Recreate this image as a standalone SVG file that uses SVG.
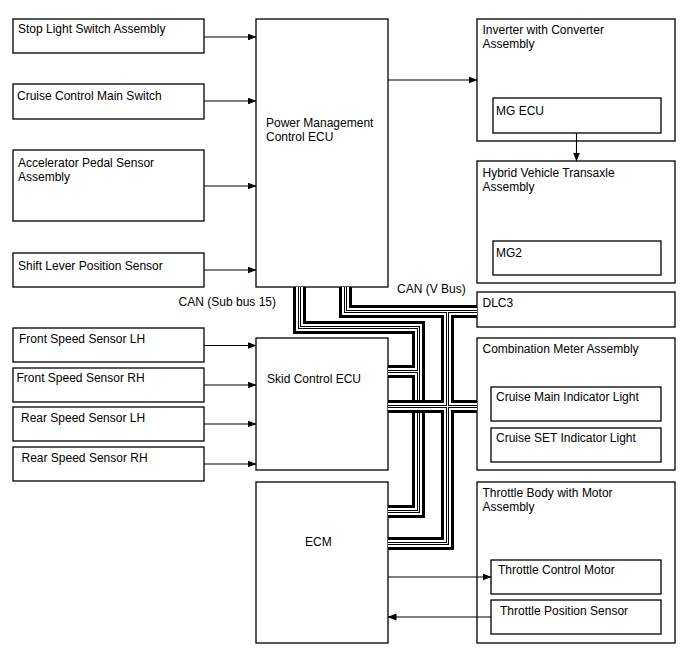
<svg xmlns="http://www.w3.org/2000/svg" width="688" height="658" viewBox="0 0 688 658">
<defs>
<marker id="ah" markerWidth="9" markerHeight="8" refX="8.5" refY="3.5" orient="auto" markerUnits="userSpaceOnUse">
<path d="M0,0 L9,3.5 L0,7 z" fill="#000"/>
</marker>
<style>
.box{fill:#fff;stroke:#000;stroke-width:1.3}
.t{font-family:"Liberation Sans",Arial,sans-serif;font-size:12px;fill:#000}
.arr{stroke:#000;stroke-width:1.1;fill:none;marker-end:url(#ah)}
.b1{stroke:#000;stroke-width:13;fill:none;stroke-linejoin:miter}
.b2{stroke:#fff;stroke-width:7;fill:none;stroke-linejoin:miter}
.b3{stroke:#000;stroke-width:3;fill:none;stroke-linejoin:miter}
.b4{stroke:#fff;stroke-width:1;fill:none;stroke-linejoin:miter}
</style>
</defs>
<rect width="688" height="658" fill="#fff"/>

<g id="stop-light"><rect class="box" x="13" y="19" width="191" height="34"/><text class="t" x="18" y="33">Stop Light Switch Assembly</text></g>
<g id="cruise-main"><rect class="box" x="13" y="84" width="191" height="35"/><text class="t" x="17" y="99.5">Cruise Control Main Switch</text></g>
<g id="accel"><rect class="box" x="13" y="150" width="191" height="71"/><text class="t" x="18" y="167">Accelerator Pedal Sensor</text><text class="t" x="18" y="181">Assembly</text></g>
<g id="shift"><rect class="box" x="13" y="253" width="191" height="34"/><text class="t" x="18" y="269.5">Shift Lever Position Sensor</text></g>

<g id="pm-ecu"><rect class="box" x="256" y="19" width="132" height="268"/><text class="t" x="266" y="127">Power Management</text><text class="t" x="266" y="141">Control ECU</text></g>

<g id="inverter"><rect class="box" x="477" y="19" width="198" height="122"/><text class="t" x="482.5" y="34">Inverter with Converter</text><text class="t" x="482.5" y="48">Assembly</text></g>
<g id="mg-ecu"><rect class="box" x="493" y="98" width="168" height="35"/><text class="t" x="496" y="115">MG ECU</text></g>
<g id="hybrid"><rect class="box" x="477" y="161" width="198" height="122"/><text class="t" x="482.5" y="177">Hybrid Vehicle Transaxle</text><text class="t" x="482.5" y="191">Assembly</text></g>
<g id="mg2"><rect class="box" x="493" y="241" width="168" height="34"/><text class="t" x="496" y="256.5">MG2</text></g>
<g id="dlc3"><rect class="box" x="477" y="292" width="198" height="35"/><text class="t" x="482.5" y="307">DLC3</text></g>
<g id="combo"><rect class="box" x="477" y="338" width="198" height="132"/><text class="t" x="482.5" y="353">Combination Meter Assembly</text></g>
<g id="cruise-main-ind"><rect class="box" x="491" y="387" width="170" height="34"/><text class="t" x="496" y="401">Cruise Main Indicator Light</text></g>
<g id="cruise-set-ind"><rect class="box" x="491" y="428" width="170" height="34"/><text class="t" x="496" y="442">Cruise SET Indicator Light</text></g>
<g id="throttle-body"><rect class="box" x="477" y="482" width="198" height="161"/><text class="t" x="482.5" y="497">Throttle Body with Motor</text><text class="t" x="482.5" y="511">Assembly</text></g>
<g id="throttle-motor"><rect class="box" x="491" y="560" width="170" height="34"/><text class="t" x="498" y="574">Throttle Control Motor</text></g>
<g id="throttle-sensor"><rect class="box" x="491" y="600" width="170" height="34"/><text class="t" x="500" y="614.5">Throttle Position Sensor</text></g>

<g id="fl"><rect class="box" x="13" y="328" width="191" height="34"/><text class="t" x="19" y="343">Front Speed Sensor LH</text></g>
<g id="fr"><rect class="box" x="13" y="368" width="191" height="34"/><text class="t" x="16.5" y="381.5">Front Speed Sensor RH</text></g>
<g id="rl"><rect class="box" x="13" y="407" width="191" height="34"/><text class="t" x="21" y="422">Rear Speed Sensor LH</text></g>
<g id="rr"><rect class="box" x="13" y="447" width="191" height="34"/><text class="t" x="21.5" y="461.5">Rear Speed Sensor RH</text></g>

<g id="skid"><rect class="box" x="256" y="338" width="132" height="132"/><text class="t" x="267" y="383">Skid Control ECU</text></g>
<g id="ecm"><rect class="box" x="256" y="482" width="132" height="161"/><text class="t" x="305" y="546">ECM</text></g>

<g id="connectors">
<path class="arr" d="M204,37 H256"/>
<path class="arr" d="M204,101 H256"/>
<path class="arr" d="M204,186 H256"/>
<path class="arr" d="M204,270 H256"/>
<path class="arr" d="M388,80 H477"/>
<path class="arr" d="M576.5,133 V161"/>
<path class="arr" d="M204,345.5 H256"/>
<path class="arr" d="M204,385 H256"/>
<path class="arr" d="M204,424 H256"/>
<path class="arr" d="M204,464 H256"/>
<path class="arr" d="M388,577 H491"/>
<path class="arr" d="M491,617 H388"/>

<g id="can-sub-bus-15">
<path class="b1" d="M299.5,287 V327.5 H418.5 V511.5 H388 M418.5,371.5 H388"/>
<path class="b2" d="M299.5,287 V327.5 H418.5 V511.5 H388 M418.5,371.5 H388"/>
<path class="b3" d="M299.5,287 V327.5 H418.5 V511.5 H388 M418.5,371.5 H388"/>
<path class="b4" d="M299.5,287 V327.5 H418.5 V511.5 H388 M418.5,371.5 H388"/>
</g>
<g id="can-v-bus">
<path class="b1" d="M345.5,287 V311.5 H477 M447.5,311.5 V543.5 H388 M388,406.5 H477"/>
<path class="b2" d="M345.5,287 V311.5 H477 M447.5,311.5 V543.5 H388 M388,406.5 H477"/>
<path class="b3" d="M345.5,287 V311.5 H477 M447.5,311.5 V543.5 H388 M388,406.5 H477"/>
<path class="b4" d="M345.5,287 V311.5 H477 M447.5,311.5 V543.5 H388 M388,406.5 H477"/>
</g>
<text class="t" x="276" y="306" text-anchor="end">CAN (Sub bus 15)</text>
<text class="t" x="397" y="293">CAN (V Bus)</text>
</g>
</svg>
